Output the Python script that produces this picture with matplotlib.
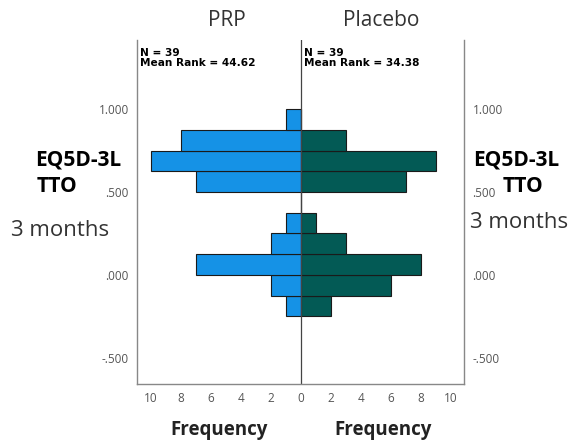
import numpy as np
import matplotlib
matplotlib.use("Agg")
from matplotlib import pyplot as plt

# histogram bins of EQ5D-3L TTO at 3 months (lower edges, width 0.125)
bin_edges = [-0.25, -0.125, 0.0, 0.125, 0.25, 0.375, 0.5, 0.625, 0.75, 0.875]
bin_width = 0.125
prp_counts = [1, 2, 7, 2, 1, 0, 7, 10, 8, 1]
placebo_counts = [2, 6, 8, 3, 1, 0, 7, 9, 3, 0]
groups = ["PRP", "Placebo"]
stats = ["N = 39\nMean Rank = 44.62", "N = 39\nMean Rank = 34.38"]
y_ticks = [-0.5, 0.0, 0.5, 1.0]
y_labels = ["-.500", ".000", ".500", "1.000"]
x_ticks = [-10, -8, -6, -4, -2, 0, 2, 4, 6, 8, 10]

plt.rcParams['font.family'] = ['Open Sans', 'DejaVu Sans']

fig = plt.figure(figsize=(5.71, 4.43), dpi=100)
ax = fig.add_axes([0.240, 0.133, 0.573, 0.777])

ax.barh(bin_edges, -np.array(prp_counts), height=bin_width, align='edge',
        color='#1592e6', edgecolor='#1a1a1a', linewidth=0.8)
ax.barh(bin_edges, placebo_counts, height=bin_width, align='edge',
        color='#035a55', edgecolor='#1a1a1a', linewidth=0.8)
ax.axvline(0, color='#444444', linewidth=0.9)

ax.set_xlim(-10.9, 10.9)
ax.set_ylim(-0.66, 1.42)
ax.set_xticks(x_ticks)
ax.set_xticklabels([str(abs(v)) for v in x_ticks])
ax.set_yticks(y_ticks)
ax.set_yticklabels(y_labels)
ax.tick_params(axis='both', length=0, labelsize=8.5, colors='#555555', pad=6)
ax.tick_params(axis='y', labelright=True, pad=6)
ax.spines['top'].set_visible(False)
for s in ['left', 'right', 'bottom']:
    ax.spines[s].set_color('#888888')
    ax.spines[s].set_linewidth(1.0)

# group titles
fig.text(227 / 571, 1 - 21 / 443, groups[0], ha='center', va='center',
         fontsize=15, color='#333333')
fig.text(381 / 571, 1 - 21 / 443, groups[1], ha='center', va='center',
         fontsize=15, color='#333333')

# N / mean rank
ax.text(-10.7, 1.37, stats[0], ha='left', va='top', fontsize=7.6,
        fontweight='bold', linespacing=0.95, family='DejaVu Sans')
ax.text(0.2, 1.37, stats[1], ha='left', va='top', fontsize=7.6,
        fontweight='bold', linespacing=0.95, family='DejaVu Sans')

# side labels
fig.text(121 / 571, 1 - 160 / 443, "EQ5D-3L", ha='right', va='center',
         fontsize=15, fontweight='bold')
fig.text(37 / 571, 1 - 186 / 443, "TTO", ha='left', va='center',
         fontsize=15, fontweight='bold')
fig.text(11 / 571, 1 - 230 / 443, "3 months", ha='left', va='center',
         fontsize=16, color='#333333')
fig.text(473 / 571, 1 - 160 / 443, "EQ5D-3L", ha='left', va='center',
         fontsize=15, fontweight='bold')
fig.text(503 / 571, 1 - 186 / 443, "TTO", ha='left', va='center',
         fontsize=15, fontweight='bold')
fig.text(470 / 571, 1 - 222 / 443, "3 months", ha='left', va='center',
         fontsize=16, color='#333333')

# x axis labels
fig.text(219 / 571, 1 - 430 / 443, "Frequency", ha='center', va='center',
         fontsize=13.5, fontweight='bold', color='#222222')
fig.text(383 / 571, 1 - 430 / 443, "Frequency", ha='center', va='center',
         fontsize=13.5, fontweight='bold', color='#222222')

fig.savefig("out.png", dpi=100)
